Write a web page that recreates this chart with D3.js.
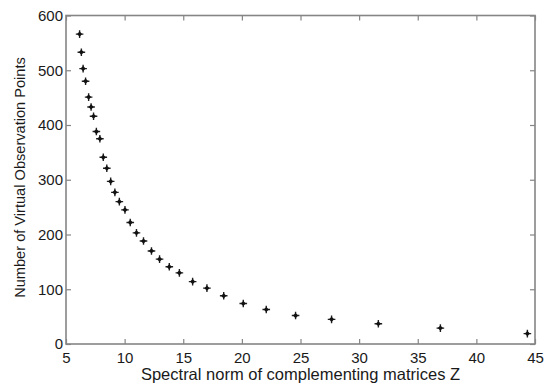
<!DOCTYPE html>
<html lang="en">
<head>
<meta charset="utf-8">
<title>Virtual observation points vs spectral norm</title>
<script src="https://cdn.jsdelivr.net/npm/d3@7"></script>
<style>
  body { margin: 0; background: #fff; }
  text { font-family: "Liberation Sans", Arial, sans-serif; fill: #1a1a1a; }
</style>
</head>
<body>
<div id="chart"></div>
<script>
// values
const normZ = [6.16, 6.31, 6.46, 6.67, 6.93, 7.14, 7.35, 7.59, 7.89, 8.18,
               8.48, 8.81, 9.17, 9.55, 10.03, 10.48, 11.01, 11.61, 12.29, 12.98,
               13.81, 14.67, 15.80, 17.02, 18.45, 20.12, 22.08, 24.58, 27.65, 31.64,
               36.93, 44.35];
const numPoints = [566, 533, 503, 480, 451, 433, 416, 388, 375, 341,
                   321, 297, 277, 260, 245, 222, 203, 188, 170, 155,
                   141, 130, 114, 102, 88, 74, 63, 52, 45, 37,
                   29, 19];
const xTicks = [5, 10, 15, 20, 25, 30, 35, 40, 45];
const yTicks = [0, 100, 200, 300, 400, 500, 600];

var margin = {top: 15.5, right: 10, bottom: 41, left: 66},
    W = 545, H = 385,
    width = W - margin.left - margin.right,
    height = H - margin.top - margin.bottom;

const svg = d3.select("#chart").append("svg")
    .attr("width", W).attr("height", H);

const g = svg.append("g")
    .attr("transform", `translate(${margin.left},${margin.top})`);

const x = d3.scaleLinear().domain([5, 45]).range([0, width]);
const y = d3.scaleLinear().domain([0, 600]).range([height, 0]);

const axisColor = "#858585";

// matlab style: ticks point inward on all four sides, labels only left/bottom
function styleAxis(sel) {
  sel.select(".domain").remove();
  sel.selectAll(".tick line").attr("stroke", axisColor).attr("stroke-width", 1.2);
  sel.selectAll("text").style("font-size", "15px");
}

g.append("g")
  .attr("transform", `translate(0,${height})`)
  .call(d3.axisBottom(x).tickValues(xTicks).tickSizeInner(-5).tickSizeOuter(0))
  .call(styleAxis)
  .selectAll("text").attr("y", 8).attr("dy", "0.71em");

g.append("g")
  .call(d3.axisTop(x).tickValues(xTicks).tickSizeInner(-5).tickSizeOuter(0).tickFormat(""))
  .call(styleAxis);

g.append("g")
  .call(d3.axisLeft(y).tickValues(yTicks).tickSizeInner(-5).tickSizeOuter(0))
  .call(styleAxis)
  .selectAll("text").attr("x", -3);

g.append("g")
  .attr("transform", `translate(${width},0)`)
  .call(d3.axisRight(y).tickValues(yTicks).tickSizeInner(-5).tickSizeOuter(0).tickFormat(""))
  .call(styleAxis);

// box
g.append("rect")
  .attr("width", width).attr("height", height)
  .attr("fill", "none").attr("stroke", axisColor).attr("stroke-width", 1.6);

// markers
const data = normZ.map((v, i) => ({x: v, y: numPoints[i]}));
const mk = g.append("g").selectAll("g.pt")
  .data(data).enter().append("g")
    .attr("class", "pt")
    .attr("transform", d => `translate(${x(d.x)},${y(d.y)})`);
mk.append("path")
  .attr("d", "M-3.8,0L3.8,0M0,-3.8L0,3.8")
  .attr("stroke", "#222").attr("stroke-width", 1.4);
mk.append("path")
  .attr("d", "M0,-2.6L2.6,0L0,2.6L-2.6,0Z")
  .attr("fill", "#111");

// axis labels
svg.append("text")
  .attr("x", 300.5)
  .attr("y", 380)
  .attr("text-anchor", "middle")
  .style("font-size", "16.5px")
  .text("Spectral norm of complementing matrices Z");

svg.append("text")
  .attr("transform", "translate(25,177.5) rotate(-90)")
  .attr("text-anchor", "middle")
  .style("font-size", "14.6px")
  .text("Number of Virtual Observation Points");
</script>
</body>
</html>
